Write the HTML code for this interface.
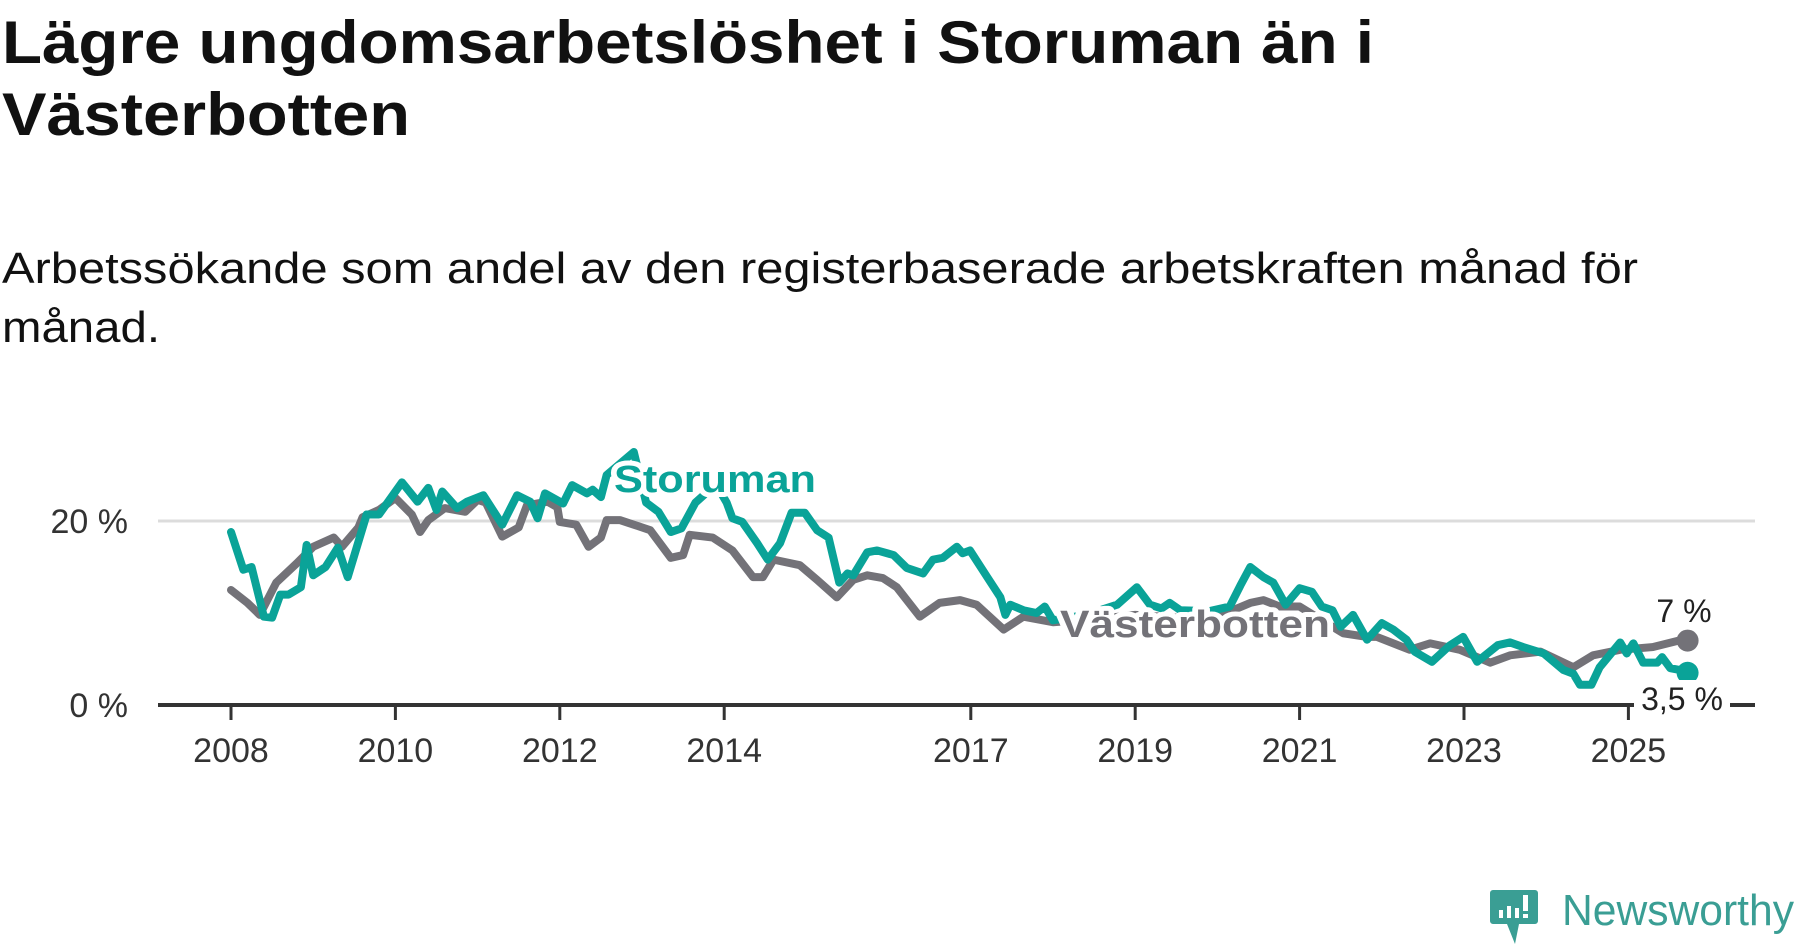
<!DOCTYPE html>
<html><head><meta charset="utf-8"><style>
html,body{margin:0;padding:0;background:#fff;}
svg{display:block;font-family:"Liberation Sans",sans-serif;}
</style></head><body>
<svg id="chart" width="1800" height="948" viewBox="0 0 1800 948">
<text x="2" y="63" font-size="60" font-weight="bold" fill="#111" textLength="1372" lengthAdjust="spacingAndGlyphs">Lägre ungdomsarbetslöshet i Storuman än i</text>
<text x="2" y="135" font-size="60" font-weight="bold" fill="#111" textLength="408" lengthAdjust="spacingAndGlyphs">Västerbotten</text>
<text x="2" y="283" font-size="44" fill="#111" textLength="1636" lengthAdjust="spacingAndGlyphs">Arbetssökande som andel av den registerbaserade arbetskraften månad för</text>
<text x="2" y="342" font-size="44" fill="#111" textLength="158" lengthAdjust="spacingAndGlyphs">månad.</text>
<g id="plot"></g>
<g>
<path d="M1493 890 h42 a3 3 0 0 1 3 3 v28 a3 3 0 0 1 -3 3 h-16 l-4 20 l-8 -20 h-14 a3 3 0 0 1 -3 -3 v-28 a3 3 0 0 1 3 -3z" fill="#3a9e94"/>
<rect x="1499" y="910" width="4" height="8" fill="#fff"/><rect x="1507" y="906" width="4" height="12" fill="#fff"/><rect x="1515" y="908" width="4" height="10" fill="#fff"/><rect x="1523" y="895" width="5" height="16" fill="#fff"/><rect x="1523" y="914" width="5" height="4" fill="#fff"/>
<text x="1562" y="925" font-size="44" fill="#3a9e94" textLength="232" lengthAdjust="spacingAndGlyphs">Newsworthy</text>
</g>
</svg>
<script>
const yTicks=[0,20];
const yTickLabels=["0 %","20 %"];
const xTicks=[2008,2010,2012,2014,2017,2019,2021,2023,2025];
const vbDates=[2008.0,2008.2,2008.35,2008.55,2008.8,2009.0,2009.25,2009.35,2009.55,2009.6,2009.8,2010.0,2010.2,2010.3,2010.4,2010.6,2010.85,2011.0,2011.1,2011.3,2011.5,2011.6,2011.85,2011.97,2012.0,2012.2,2012.35,2012.5,2012.57,2012.73,2012.9,2013.1,2013.35,2013.5,2013.58,2013.86,2014.1,2014.35,2014.47,2014.6,2014.92,2015.13,2015.37,2015.57,2015.74,2015.93,2016.1,2016.38,2016.62,2016.87,2017.07,2017.4,2017.64,2018.0,2018.3,2018.7,2019.0,2019.5,2020.0,2020.4,2020.56,2020.76,2021.0,2021.53,2021.82,2021.94,2022.34,2022.59,2022.95,2023.32,2023.56,2023.93,2024.33,2024.57,2024.9,2025.3,2025.66,2025.72];
const vbValues=[12.5,11.1,9.8,13.3,15.4,17.2,18.2,17.2,19.3,20.4,21.2,22.5,20.7,18.8,20.1,21.4,21,22.3,22,18.3,19.3,21.7,22.1,21.5,19.9,19.6,17.2,18.2,20.1,20.1,19.6,19,16,16.3,18.5,18.2,16.8,13.9,13.9,15.8,15.2,13.6,11.7,13.6,14.1,13.8,12.8,9.6,11.1,11.4,10.9,8.2,9.6,9,9.2,9.5,9.8,9.5,9.6,11.1,11.4,10.7,10.7,7.8,7.4,7.4,6,6.7,6,4.6,5.4,5.8,4.1,5.4,6,6.3,7.1,7];
const stDates=[2008.0,2008.15,2008.25,2008.4,2008.5,2008.6,2008.7,2008.85,2008.92,2009.0,2009.15,2009.3,2009.42,2009.65,2009.8,2010.08,2010.27,2010.4,2010.5,2010.57,2010.75,2010.87,2011.07,2011.3,2011.48,2011.64,2011.73,2011.82,2012.04,2012.15,2012.33,2012.4,2012.5,2012.57,2012.9,2013.05,2013.2,2013.35,2013.48,2013.65,2013.9,2014.03,2014.1,2014.22,2014.4,2014.53,2014.68,2014.82,2014.98,2015.13,2015.27,2015.4,2015.5,2015.57,2015.74,2015.86,2016.06,2016.22,2016.42,2016.54,2016.66,2016.83,2016.9,2016.99,2017.2,2017.36,2017.42,2017.48,2017.64,2017.8,2017.9,2018.0,2018.4,2018.78,2019.02,2019.18,2019.32,2019.42,2019.55,2019.9,2020.15,2020.28,2020.4,2020.56,2020.68,2020.83,2021.0,2021.15,2021.27,2021.4,2021.5,2021.65,2021.82,2022.0,2022.14,2022.3,2022.4,2022.61,2022.83,2022.99,2023.16,2023.41,2023.56,2023.72,2023.97,2024.21,2024.33,2024.41,2024.55,2024.65,2024.9,2024.98,2025.06,2025.18,2025.35,2025.41,2025.51,2025.63,2025.72];
const stValues=[18.8,14.7,15,9.6,9.5,12,12,12.8,17.4,14.1,15,17.1,13.9,20.7,20.7,24.2,22.1,23.6,21.2,23.2,21.4,22.1,22.8,19.6,22.8,22.1,20.3,23,21.9,23.9,23,23.4,22.6,25,27.5,22,21,18.8,19.2,22,24,22,20.3,19.9,17.6,15.8,17.6,20.9,20.9,19,18.2,13.3,14.3,14.1,16.6,16.8,16.3,14.9,14.3,15.8,16,17.2,16.5,16.8,13.9,11.7,9.8,10.9,10.3,10,10.7,9.2,9.8,10.9,12.8,10.9,10.5,11.1,10.3,10.2,10.7,13,15,13.9,13.3,10.9,12.7,12.3,10.7,10.3,8.5,9.8,7.1,8.9,8.2,7.1,5.8,4.7,6.5,7.4,4.7,6.5,6.8,6.3,5.6,3.8,3.4,2.2,2.2,4.1,6.8,5.6,6.7,4.6,4.6,5.2,4,3.8,3.5];

const NS="http://www.w3.org/2000/svg";
const plot=document.getElementById('plot');
const xs=y=>231+(y-2008)*82.2;
const ys=v=>705-v*9.2;
function mk(tag,attrs){const e=document.createElementNS(NS,tag);for(const k in attrs)e.setAttribute(k,attrs[k]);plot.appendChild(e);return e;}

yTicks.forEach((t,i)=>{
  if(t>0){const g=mk('line',{x1:158,x2:1755,y1:ys(t),y2:ys(t),stroke:'#dcdcdc','stroke-width':3});
  
  }
  const l=mk('text',{x:128,y:ys(t)+12,'font-size':34,fill:'#333','text-anchor':'end'});
  l.textContent=yTickLabels[i];
  
  
});
xTicks.forEach(t=>{
  const tk=mk('line',{x1:xs(t),x2:xs(t),y1:705,y2:720,stroke:'#333','stroke-width':3});
  
  
  const l=mk('text',{x:xs(t),y:762,'font-size':34,fill:'#333','text-anchor':'middle'});
  l.textContent=String(t);
  
  
});
const ax=mk('line',{x1:158,x2:1755,y1:705,y2:705,stroke:'#333','stroke-width':4});



function series(d,v,color,name){
  const p=mk('polyline',{points:d.map((x,i)=>xs(x)+','+ys(v[i])).join(' '),fill:'none',stroke:color,'stroke-width':8,'stroke-linejoin':'round','stroke-linecap':'round'});
  
  
  const n=d.length-1;
  const c=mk('circle',{cx:xs(d[n]),cy:ys(v[n]),r:11,fill:color});
  
  
}
series(vbDates,vbValues,'#737278','vasterbotten');
series(stDates,stValues,'#0aa398','storuman');

const lab1=mk('text',{x:614,y:492,'font-size':38,'font-weight':'bold',fill:'#0aa398',stroke:'#fff','stroke-width':10,'paint-order':'stroke','stroke-linejoin':'round',textLength:202,lengthAdjust:'spacingAndGlyphs'});
lab1.textContent='Storuman';


const lab2=mk('text',{x:1060,y:637,'font-size':38,'font-weight':'bold',fill:'#737278',stroke:'#fff','stroke-width':10,'paint-order':'stroke','stroke-linejoin':'round',textLength:270,lengthAdjust:'spacingAndGlyphs'});
lab2.textContent='Västerbotten';



const e1=mk('text',{x:1684,y:622,'font-size':32,fill:'#222','text-anchor':'middle'});
e1.textContent=vbValues[vbValues.length-1]+' %';


const bg=mk('rect',{x:1634,y:680,width:96,height:36,fill:'#fff'});


const e2=mk('text',{x:1682,y:710,'font-size':32,fill:'#222','text-anchor':'middle'});
e2.textContent=String(stValues[stValues.length-1]).replace('.',',')+' %';


</script>
</body></html>
